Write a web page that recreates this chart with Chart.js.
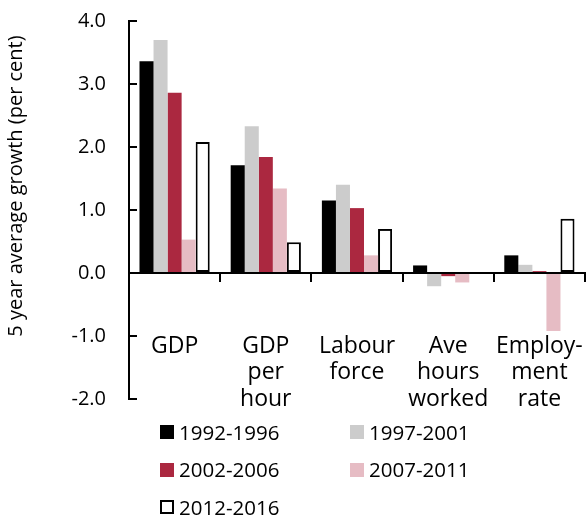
<!DOCTYPE html>
<html>
<head>
<meta charset="utf-8">
<script src="https://cdn.jsdelivr.net/npm/chart.js@4/dist/chart.umd.min.js"></script>
<style>
    body { margin: 0; background: #fff; }
    #wrap { position: relative; width: 586px; height: 518px; }
    #growthChart { position: absolute; left: 0; top: 0; }
    .legend-item {
        position: absolute;
        display: flex;
        align-items: center;
        font-family: 'Open Sans', 'Noto Sans', sans-serif;
        font-size: 20.5px;
        color: #000;
        white-space: nowrap;
        line-height: 1;
    }
    .legend-box {
        width: 14px;
        height: 14px;
        box-sizing: border-box;
        margin-right: 5px;
    }
</style>
</head>
<body>
<div id="wrap">
    <canvas id="growthChart" width="586" height="518"></canvas>
    <div id="legend"></div>
</div>
<script>
// Growth components, five-year averages
const categories = [['GDP'], ['GDP', 'per', 'hour'], ['Labour', 'force'], ['Ave', 'hours', 'worked'], ['Employ-', 'ment', 'rate']];
const periods = ['1992-1996', '1997-2001', '2002-2006', '2007-2011', '2012-2016'];

const growth1992 = [3.36, 1.71, 1.15, 0.12, 0.28];
const growth1997 = [3.70, 2.33, 1.40, -0.21, 0.13];
const growth2002 = [2.86, 1.84, 1.03, -0.05, 0.03];
const growth2007 = [0.53, 1.34, 0.28, -0.15, -0.92];
const growth2012 = [2.08, 0.49, 0.70, null, 0.86];

const yTicks = [-2, -1, 0, 1, 2, 3, 4];
const yTitle = '5 year average growth (per cent)';

const seriesStyles = [
    { fill: '#000000', border: '#000000', width: 0 },
    { fill: '#cccccc', border: '#cccccc', width: 0 },
    { fill: '#ab2840', border: '#ab2840', width: 0 },
    { fill: '#e6bcc4', border: '#e6bcc4', width: 0 },
    { fill: '#ffffff', border: '#000000', width: 2 }
];

const seriesValues = [growth1992, growth1997, growth2002, growth2007, growth2012];

const datasets = periods.map((label, i) => ({
    label: label,
    data: seriesValues[i],
    backgroundColor: seriesStyles[i].fill,
    borderColor: seriesStyles[i].border,
    borderWidth: seriesStyles[i].width,
    borderSkipped: false,
    categoryPercentage: 0.77,
    barPercentage: 1.0
}));

// Rotated axis title, placed a little above the plot centre
const axisTitlePlugin = {
    id: 'axisTitle',
    afterDraw(chart) {
        const c = chart.ctx;
        c.save();
        c.translate(16, 186);
        c.rotate(-Math.PI / 2);
        c.font = "20px 'Open Sans', 'Noto Sans', sans-serif";
        c.fillStyle = '#000';
        c.textAlign = 'center';
        c.textBaseline = 'middle';
        c.fillText(yTitle, 0, 0);
        c.restore();
    }
};

const ctx = document.getElementById('growthChart').getContext('2d');

const chart = new Chart(ctx, {
    type: 'bar',
    data: {
        labels: categories,
        datasets: datasets
    },
    options: {
        responsive: false,
        animation: false,
        layout: {
            padding: { left: 0, top: 21, right: 1, bottom: 119 }
        },
        scales: {
            x: {
                type: 'category',
                position: { y: 0 },
                offset: true,
                afterFit: function(scale) {
                    scale.paddingLeft = 0;
                    scale.paddingRight = 0;
                },
                grid: {
                    offset: true,
                    drawOnChartArea: false,
                    drawTicks: true,
                    tickLength: 8,
                    color: '#000',
                    lineWidth: 2
                },
                border: { display: true, color: '#000', width: 2 },
                ticks: {
                    autoSkip: false,
                    maxRotation: 0,
                    padding: 52,
                    color: '#000',
                    font: { family: "'Open Sans', 'Noto Sans', sans-serif", size: 23, lineHeight: 1.15 }
                }
            },
            y: {
                min: -2,
                max: 4,
                afterBuildTicks: function(scale) {
                    scale.ticks = yTicks.map(v => ({ value: v }));
                },
                afterFit: function(scale) {
                    scale.width = 129;
                    scale.paddingTop = 0;
                    scale.paddingBottom = 0;
                },
                grid: {
                    drawOnChartArea: false,
                    drawTicks: true,
                    tickLength: -8,
                    color: '#000',
                    lineWidth: 2
                },
                border: { display: true, color: '#000', width: 2 },
                ticks: {
                    padding: 31,
                    color: '#000',
                    font: { family: "'Open Sans', 'Noto Sans', sans-serif", size: 20 },
                    callback: function(value) {
                        return value.toFixed(1);
                    }
                }
            }
        },
        plugins: {
            legend: { display: false },
            tooltip: { enabled: false }
        }
    },
    plugins: [axisTitlePlugin]
});

// Two-column legend under the plot
function buildLegend() {
    const holder = document.getElementById('legend');
    chart.data.datasets.forEach((ds, i) => {
        const col = i % 2;
        const row = Math.floor(i / 2);
        const item = document.createElement('div');
        item.className = 'legend-item';
        item.style.left = (160 + col * 190) + 'px';
        item.style.top = (421 + row * 37.5) + 'px';
        item.style.height = '22px';

        const box = document.createElement('span');
        box.className = 'legend-box';
        box.style.background = ds.backgroundColor;
        if (ds.borderWidth > 0) {
            box.style.border = ds.borderWidth + 'px solid ' + ds.borderColor;
        }
        const text = document.createElement('span');
        text.textContent = ds.label;

        item.appendChild(box);
        item.appendChild(text);
        holder.appendChild(item);
    });
}

buildLegend();
</script>
</body>
</html>
